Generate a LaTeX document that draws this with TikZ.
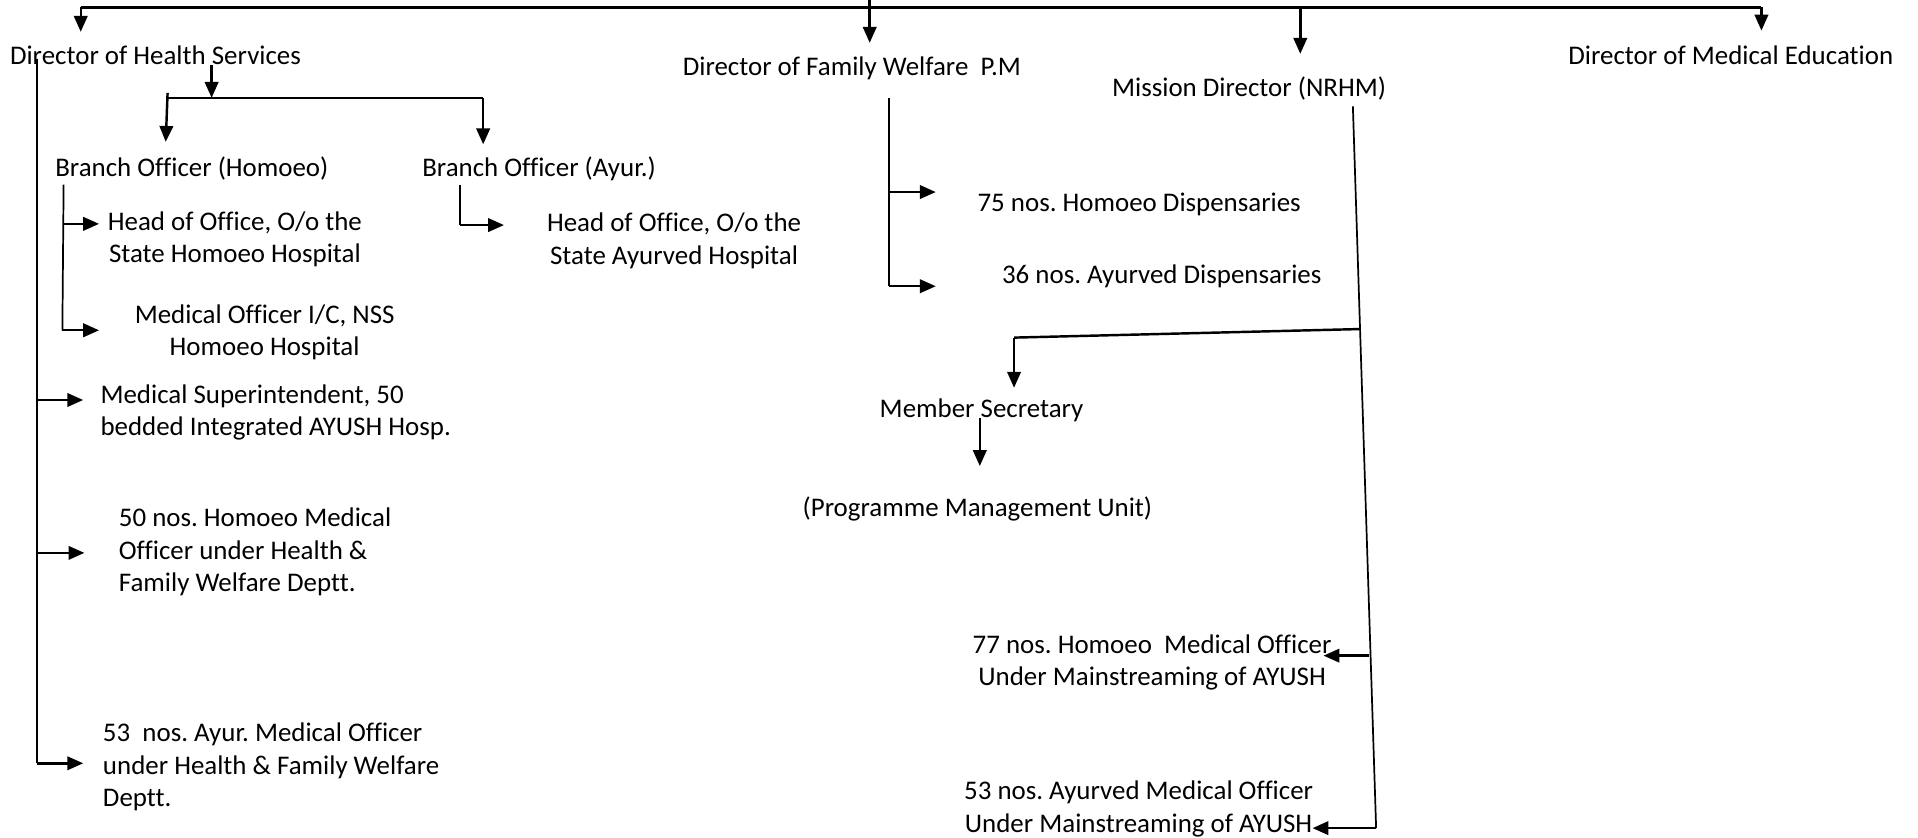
\documentclass[tikz,border=0pt]{standalone}
\usepackage{fontspec}
\setmainfont{Carlito}[Ligatures=NoCommon]
\usetikzlibrary{arrows.meta}
\begin{document}
\frenchspacing
\begin{tikzpicture}[x=1pt,y=-1pt,
  lbl/.style={font=\fontsize{22}{26.5}\selectfont\frenchspacing, inner sep=0pt, anchor=base west},
  thin/.style={line width=1.4pt},
  arr/.style={line width=2pt, -{Triangle[length=13pt,width=11pt]}},
  plain/.style={line width=2pt}]
\useasboundingbox (0,0) rectangle (1568,685);
% nodes (anchor = baseline of last line)
\node[lbl] (dhs) at (8,52.8) {Director of Health Services};
\node[lbl] (dfw) at (558,62) {Director of Family Welfare\ \ P.M};
\node[lbl] (md) at (909,79) {Mission Director (NRHM)};
\node[lbl] (dme) at (1282,52.8) {Director of Medical Education};
\node[lbl] (bh) at (45,144) {Branch Officer (Homoeo)};
\node[lbl] (ba) at (345,144) {Branch Officer (Ayur.)};
\node[lbl,align=center] (hh) at (88,215) {Head of Office, O/o the\\State Homoeo Hospital};
\node[lbl,align=center] (ha) at (447,216) {Head of Office, O/o the\\State Ayurved Hospital};
\node[lbl,align=center] (mo) at (110,291) {Medical Officer I/C, NSS\\Homoeo Hospital};
\node[lbl,align=left] (ms) at (82,356) {Medical Superintendent, 50\\bedded Integrated AYUSH Hosp.};
\node[lbl,align=left] (h50) at (97,483.5) {50 nos. Homoeo Medical\\Officer under Health \&\\Family Welfare Deptt.};
\node[lbl,align=left] (a53) at (84,659.5) {53\ \ nos. Ayur. Medical Officer\\under Health \& Family Welfare\\Deptt.};
\node[lbl] (d75) at (799,173) {75 nos. Homoeo Dispensaries};
\node[lbl] (d36) at (819,231.5) {36 nos. Ayurved Dispensaries};
\node[lbl] (msec) at (719,341.5) {Member Secretary};
\node[lbl] (pmu) at (656,422.5) {(Programme Management Unit)};
\node[lbl,align=center] (h77) at (795,560.5) {77 nos. Homoeo\ \ Medical Officer\\Under Mainstreaming of AYUSH};
\node[lbl,align=center] (a53b) at (788,680.5) {53 nos. Ayurved Medical Officer\\Under Mainstreaming of AYUSH};
% top bus
\coordinate (top) at (711,0);
\coordinate (tL) at (66,6);
\coordinate (tN) at (1063,6);
\coordinate (tR) at (1440,6);
\draw[plain] (tL) -- (tR);
\draw[arr] (top) -- (711,35) coordinate (tipDFW);
\draw[arr] (tL) -- (66,26) coordinate (tipDHS);
\draw[arr] (tN) -- (1063,44) coordinate (tipMD);
\draw[arr] (tR) -- (1440,25) coordinate (tipDME);
% DHS trunk
\coordinate (dA) at (30,48);
\coordinate (d1) at (30,327);
\coordinate (d2) at (30,452);
\coordinate (d3) at (30,624);
\draw[thin] (dA) -- (d3);
\draw[arr] (d1) -- (68,327) coordinate (t1);
\draw[arr] (d2) -- (69,452) coordinate (t2);
\draw[arr] (d3) -- (68,624) coordinate (t3);
% DHS to branches
\coordinate (bs) at (173,53);
\coordinate (bj) at (173,80);
\coordinate (bl0) at (137,76);
\coordinate (bl) at (136,80);
\coordinate (br) at (395,80);
\draw[arr] (bs) -- (bj);
\draw[plain] (bl) -- (br);
\draw[arr] (bl0) -- (135.5,116) coordinate (tbh);
\draw[arr] (br) -- (395,118) coordinate (tba);
% Branch Officer (Homoeo)
\coordinate (h0) at (52,151);
\coordinate (h1) at (51.5,183);
\coordinate (h2) at (51,270);
\draw[thin] (h0) -- (h2);
\draw[arr] (h1) -- (81,183) coordinate (th1);
\draw[arr] (h2) -- (81,270) coordinate (th2);
% Branch Officer (Ayur.)
\coordinate (a0) at (376,151);
\coordinate (a1) at (376,184);
\draw[thin] (a0) -- (a1);
\draw[arr] (a1) -- (412,184) coordinate (ta1);
% DFW
\coordinate (f0) at (727,80);
\coordinate (f1) at (727,157);
\coordinate (f2) at (727,234);
\draw[thin] (f0) -- (f2);
\draw[arr] (f1) -- (765,157) coordinate (tf1);
\draw[arr] (f2) -- (765,234) coordinate (tf2);
% NRHM
\coordinate (n0) at (1106,87);
\coordinate (nj) at (1112,269);
\coordinate (n1) at (1119.5,536);
\coordinate (n2) at (1125,677);
\draw[thin] (n0) -- (n2);
\coordinate (nl) at (829,276);
\draw[plain] (nj) -- (nl);
\draw[arr] (nl) -- (829,317) coordinate (tms);
\draw[arr] (n1) -- (1082,536) coordinate (tn1);
\draw[arr] (n2) -- (1073,677) coordinate (tn2);
% Member Secretary
\coordinate (m0) at (801,342);
\draw[arr] (m0) -- (801,381) coordinate (tpmu);
\end{tikzpicture}
\end{document}
